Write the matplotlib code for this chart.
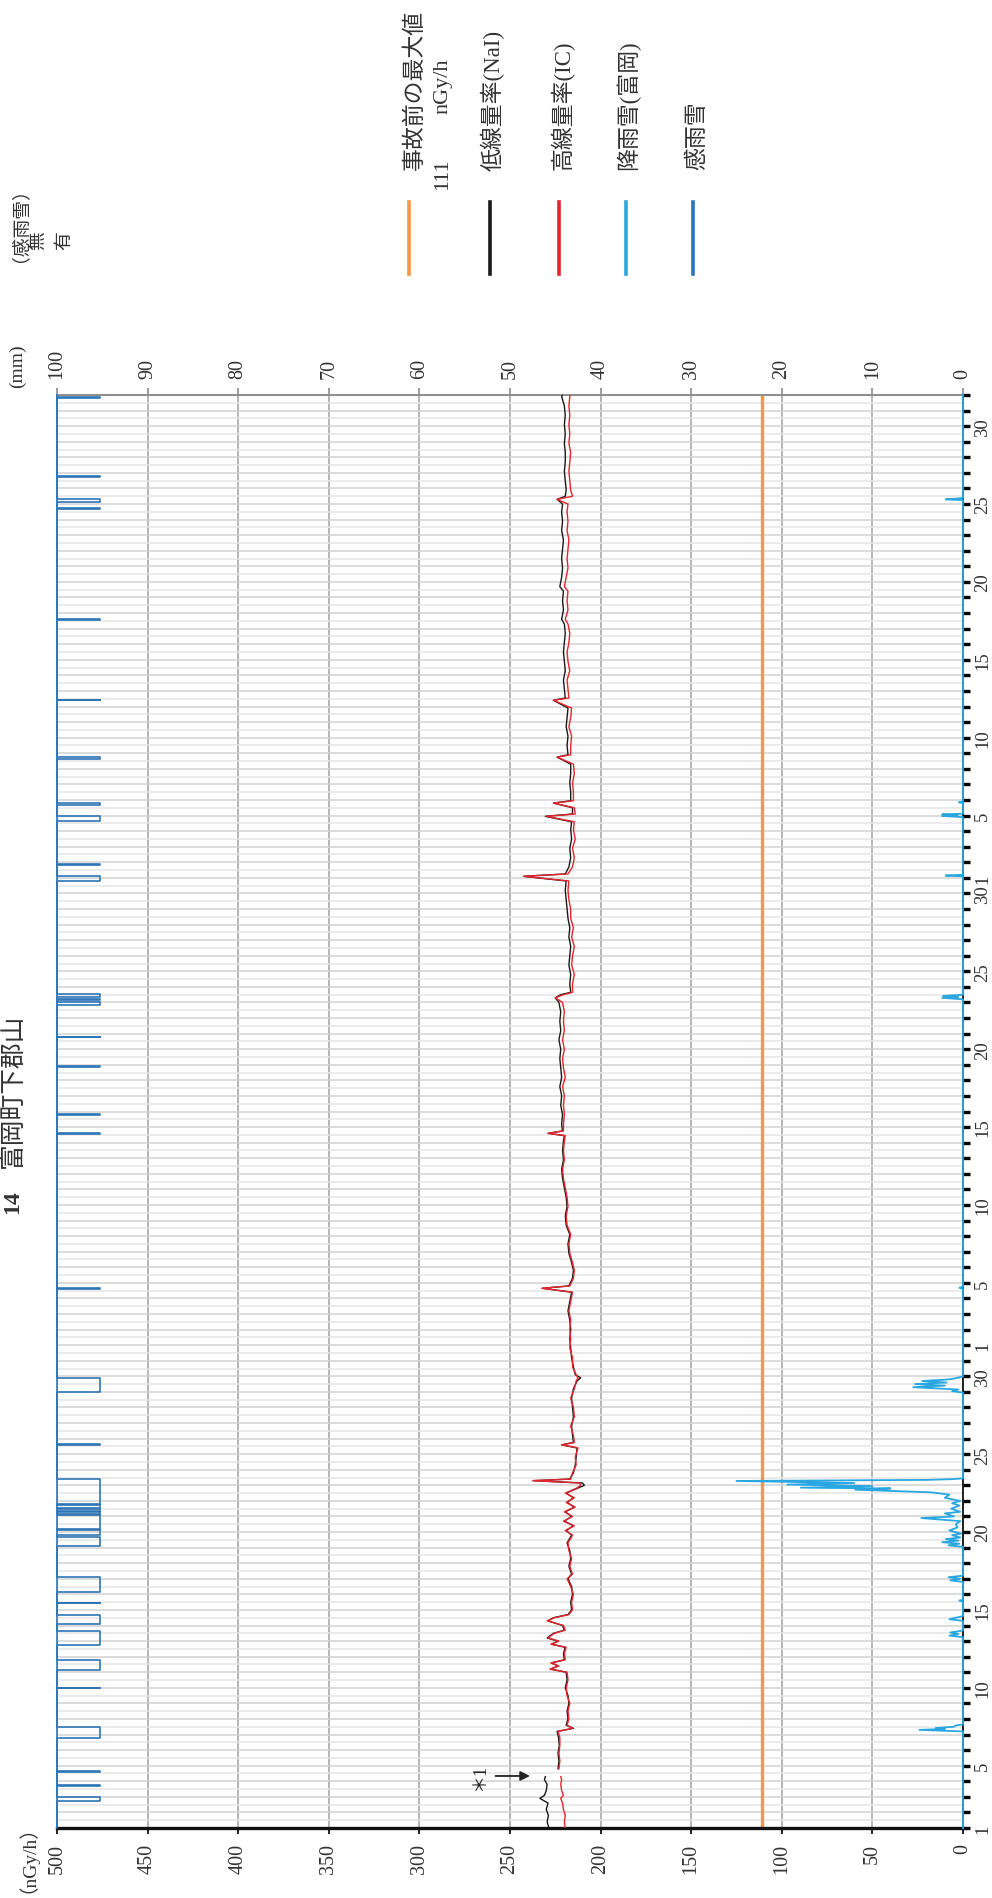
import numpy as np
import matplotlib
matplotlib.use('Agg')
import matplotlib.pyplot as plt
from matplotlib.lines import Line2D
from matplotlib.ticker import MultipleLocator

plt.rcParams['font.family'] = ['Liberation Serif', 'Noto Sans CJK JP']

# ---------------- data ----------------
title_no = "14"
title_name = "富岡町下郡山"
month_days = [31, 30, 31]
label_days = [1, 5, 10, 15, 20, 25, 30]
dose_ticks = list(range(0, 501, 50))
rain_ticks = list(range(0, 101, 10))
pre_accident_max = 111

# time in days from the first day 0:00
t_dose = [0.0, 0.4, 0.8, 1.2, 1.6, 1.9, 2.1, 2.4, 2.8, 3.1,
          3.3, 3.5, 3.8, 4.3, 4.8, 5.3, 5.8, 6.2, 6.4, 6.6,
          7.0, 7.5, 8.0, 8.5, 9.0, 9.5, 10.0, 10.2, 10.4, 10.6,
          10.8, 11.2, 11.6, 11.8, 12.0, 12.2, 12.5, 12.7, 13.0, 13.3,
          13.5, 13.7, 14.0, 14.5, 15.0, 15.5, 16.0, 16.3, 16.8, 17.3,
          17.8, 18.3, 18.8, 19.1, 19.4, 19.7, 20.0, 20.3, 20.6, 20.9,
          21.2, 21.5, 21.8, 22.0, 22.15, 22.3, 22.4, 22.8, 23.3, 23.8,
          24.4, 24.6, 24.75, 25.2, 25.8, 26.4, 27.0, 27.6, 28.2, 28.7,
          28.9, 29.1, 29.6, 30.2, 30.8, 31.4, 32.0, 32.6, 33.2, 33.8,
          34.4, 34.65, 34.8, 35.3, 35.8, 36.3, 36.9, 37.5, 38.1, 38.7,
          39.3, 39.9, 40.5, 41.1, 41.7, 42.3, 42.9, 43.5, 44.1, 44.45,
          44.6, 44.75, 45.2, 45.8, 46.4, 47.0, 47.6, 48.2, 48.8, 49.4,
          50.0, 50.6, 51.2, 51.8, 52.4, 53.0, 53.3, 53.5, 53.65, 54.2,
          54.8, 55.4, 56.0, 56.6, 57.2, 57.8, 58.4, 59.0, 59.6, 60.2,
          60.8, 61.1, 61.25, 61.7, 62.3, 62.9, 63.5, 64.1, 64.6, 64.95,
          65.1, 65.5, 65.8, 65.95, 66.5, 67.1, 67.7, 68.3, 68.75, 68.9,
          69.5, 70.1, 70.7, 71.3, 71.9, 72.4, 72.55, 73.1, 73.7, 74.3,
          74.9, 75.5, 76.1, 76.7, 77.3, 77.6, 78.2, 78.8, 79.4, 79.7,
          80.3, 80.9, 81.5, 82.1, 82.7, 83.3, 83.9, 84.5, 85.0, 85.3,
          85.5, 85.9, 86.5, 87.1, 87.7, 88.3, 88.9, 89.5, 90.1, 90.7,
          91.3, 91.9, 92.0]

nan = float('nan')
nai = [228.5, 229.5, 228.8, 230, 229, 233.5, 231, 230, 229.5, 231,
       230.5, nan, 223.5, 223, 223.5, 222.8, 223.2, 224, 215, 219,
       218, 218.5, 217.5, 218, 219.5, 218.5, 219, 227.5, 223.5, 227,
       220, 220.5, 219.5, 227, 223.5, 229.5, 226, 220, 221, 229,
       226, 218, 216, 216.5, 215.5, 216, 218, 216, 217.5, 216.5,
       217, 218.5, 216, 219, 215, 220, 216, 219.5, 214.5, 218.5,
       215, 219, 213, 209, 210, 237, 217, 215, 214, 213.5,
       213, 221.5, 215, 215.5, 216, 215, 215.5, 216, 215, 213,
       211, 214, 215, 216, 216.5, 217, 216.5, 217, 218, 217,
       216, 232, 217.5, 215.5, 215, 216, 217.5, 218, 217, 219,
       219.5, 218.5, 219, 220, 221, 221.5, 220.5, 221, 220.5, 220,
       229, 221, 221.5, 221, 222, 221.5, 222.5, 221.5, 222, 222.5,
       222, 223, 222, 222.5, 222, 223, 225, 222, 216.5, 217,
       216.5, 217.5, 217, 216.5, 217.5, 217, 218, 218.5, 219, 219.5,
       219, 242.5, 219.5, 217.5, 216.5, 217, 216, 216.5, 216, 230.5,
       215.5, 215.5, 226, 216.5, 216.5, 217, 216.5, 216.5, 224, 218,
       218.5, 218, 219, 218.5, 218, 226, 219.5, 220, 220.5, 219.5,
       220, 220.5, 220, 219.5, 220, 221.5, 220.5, 221, 220.5, 222.5,
       221.5, 221, 221.5, 221, 220.5, 221.5, 221, 221.5, 221, 224,
       219.5, 219, 219.5, 220, 219.5, 219.5, 220, 219.5, 220, 219.5,
       220, 221.5, 221]

ic = [219.5, 220, 219.5, 220.5, 221, 222, 220.5, 221.5, 222, 221.5,
      222, nan, 223, 222.5, 223, 222.5, 222.5, 223.5, 215.5, 218.5,
      217.5, 218, 217, 218.5, 219, 218, 218.5, 228, 223, 227.5,
      219.5, 220, 219, 227.5, 223, 229, 225.5, 219.5, 220.5, 229.5,
      225.5, 217.5, 215.5, 216, 215, 216.5, 218.5, 215.5, 217, 216,
      217.5, 218, 215.5, 219.5, 214.5, 220.5, 215.5, 220, 214, 219,
      214.5, 219.5, 213.5, 211, 211.5, 237.5, 216.5, 215.5, 213.5, 214,
      212.5, 221.5, 214.5, 215, 216.5, 214.5, 215, 216.5, 214.5, 213.5,
      212.5, 213.5, 215.5, 215.5, 217, 216.5, 217, 216.5, 217.5, 216.5,
      215.5, 232.5, 217, 215, 214.5, 215.5, 217, 217.5, 216.5, 218.5,
      219, 218, 218.5, 219.5, 220.5, 221, 220, 220.5, 220, 219.5,
      229, 220.5, 220.5, 220, 220.5, 220, 221, 219.5, 220.5, 221,
      220, 221, 220, 220.5, 220, 221, 225, 220.5, 215.5, 215.5,
      214.5, 216, 215.5, 214.5, 216, 215, 216.5, 216.5, 217.5, 218,
      217.5, 242.5, 218, 215.5, 214.5, 215.5, 214, 215, 214.5, 230,
      214, 214.5, 226, 215, 215, 215.5, 214.5, 215, 224, 216.5,
      216.5, 216, 217.5, 216.5, 216, 226, 217.5, 218, 218.5, 217,
      218, 218.5, 217.5, 217, 218, 219.5, 218, 218.5, 218, 220,
      219, 218, 218.5, 218, 217.5, 218.5, 218, 218.5, 218, 224,
      215.5, 216.5, 217, 217.5, 217, 216.5, 217.5, 217, 217.5, 217,
      217.5, 217, 217]

rain_t = [0.0, 6.2, 6.3, 6.36, 6.42, 6.5, 6.58, 6.65,
          12.25, 12.35, 12.45, 12.55, 12.65, 12.7,
          13.3, 13.4, 13.5, 13.6,
          14.55, 14.6, 14.65,
          15.8, 15.9, 16.0, 16.1, 16.2,
          18.05, 18.15, 18.25, 18.35, 18.45, 18.55, 18.65, 18.8, 18.9, 19.1,
          19.3, 19.5, 19.7, 19.9, 20.0, 20.2, 20.3, 20.5, 20.7, 20.85,
          21.0, 21.2, 21.4, 21.55, 21.65, 21.72, 21.8, 21.85, 21.95, 22.05,
          22.15, 22.28, 22.35, 22.4, 22.45,
          27.95, 28.05, 28.15, 28.3, 28.4, 28.5, 28.6, 28.7, 28.8, 28.9, 29.0,
          34.6, 34.68, 34.75,
          53.2, 53.3, 53.35, 53.42, 53.5,
          61.1, 61.15, 61.2,
          64.9, 64.97, 65.02, 65.07, 65.12,
          65.8, 65.85, 65.9,
          85.25, 85.3, 85.35, 85.4,
          92.0]
rain_mm = [0, 0, 4.8, 2.0, 3.0, 1.0, 0.8, 0,
           0, 1.5, 0.5, 1.4, 0.3, 0,
           0, 1.5, 0.8, 0,
           0, 0.4, 0,
           0, 1.4, 0.3, 1.6, 0,
           0, 1.6, 0.4, 2.3, 0.5, 1.9, 0.3, 1.2, 0.2, 1.5,
           0.6, 0.8, 0.3, 4.6, 1.0, 2.0, 0.3, 1.3, 0.4, 1.2,
           0.3, 2.0, 1.5, 3.5, 8.4, 11.9, 8.0, 17.9, 10.0, 19.4,
           12.0, 25.0, 4.0, 1.0, 0,
           0, 1.2, 0.5, 5.5, 2.0, 5.3, 1.8, 4.5, 1.5, 0.6, 0,
           0, 0.4, 0,
           0, 2.3, 0.5, 2.2, 0,
           0, 1.9, 0,
           0, 2.3, 0.6, 2.3, 0,
           0, 0.45, 0,
           0, 1.9, 0.6, 0,
           0]

sense_start = [1.72, 2.70, 3.61, 5.75, 8.97, 10.14, 11.72, 13.08, 14.43, 15.14,
               18.08, 18.78, 19.20, 20.14, 20.36, 20.52, 20.81, 24.61, 27.96, 34.60,
               44.53, 45.80, 48.88, 50.76, 52.84, 53.15, 53.35, 60.77, 61.82, 64.65,
               65.70, 68.63, 72.40, 77.58, 84.68, 85.10, 86.75, 91.80]
sense_end = [2.02, 2.74, 3.65, 6.50, 9.01, 10.81, 12.63, 13.69, 14.47, 16.14,
             18.68, 19.15, 20.08, 20.30, 20.45, 20.74, 22.41, 24.65, 28.86, 34.68,
             44.62, 45.84, 48.92, 50.80, 53.05, 53.25, 53.53, 61.15, 61.86, 64.95,
             65.79, 68.77, 72.44, 77.62, 84.76, 85.30, 86.79, 91.90]

legend_labels = ["事故前の最大値", "低線量率(NaI)", "高線量率(IC)", "降雨雪(富岡)", "感雨雪"]
legend_colors = ["#f79646", "#1a1a1a", "#e8232b", "#2aa7e1", "#2e75b6"]

# ---------------- figure ----------------
W, H = 992, 1899
fig = plt.figure(figsize=(W / 100, H / 100), dpi=100)


def fx(x):
    return x / W


def fy(y):
    return 1 - y / H


L, R, T, B = 57, 963, 396, 1829
total_days = sum(month_days)
NUM_FS = 14.5
TXT_C = '#333333'
CJK = ['Noto Sans CJK JP', 'DejaVu Sans']

ax = fig.add_axes([fx(L), fy(B), (R - L) / W, (B - T) / H])
ax.set_xlim(500, 0)
ax.set_ylim(0, total_days)

# day ticks
day_pos, day_lab = [], []
off = 0
for n in month_days:
    for d in range(1, n + 1):
        day_pos.append(off + d - 1)
        day_lab.append(str(d) if d in label_days else '')
    off += n
day_pos.append(off)
day_lab.append('')
ax.yaxis.tick_right()
ax.set_yticks(day_pos)
ax.set_yticklabels(day_lab, rotation=90, va='center', fontsize=13.5, color=TXT_C)
ax.yaxis.set_minor_locator(MultipleLocator(0.5))
ax.tick_params(axis='y', which='major', direction='out', length=5, width=2.4,
               color='black', pad=3)
ax.tick_params(axis='y', which='minor', length=0)

ax.set_xticks(dose_ticks)
ax.set_xticklabels([str(v) for v in dose_ticks], rotation=90, fontsize=NUM_FS, color=TXT_C)
ax.tick_params(axis='x', direction='out', length=4, width=1.2, color='black', pad=7)

ax.set_axisbelow(True)
ax.grid(axis='y', which='major', color='#d2d2d2', lw=1.1)
ax.grid(axis='y', which='minor', color='#e6e6e6', lw=1.1)
ax.grid(axis='x', which='major', color='#a8a8a8', lw=1.2)

ax.spines['bottom'].set_color('#111111')
ax.spines['bottom'].set_linewidth(2.4)
ax.spines['top'].set_color('#8c8c8c')
ax.spines['top'].set_linewidth(1.4)
ax.spines['right'].set_color('#111111')
ax.spines['right'].set_linewidth(1.3)
ax.spines['left'].set_color('#2e75b6')
ax.spines['left'].set_linewidth(1.2)

# pre-accident max
ax.axvline(pre_accident_max, color=legend_colors[0], lw=2.4, zorder=2)
# dose lines
ax.plot(nai, t_dose, color=legend_colors[1], lw=1.0, zorder=3)
ax.plot(ic, t_dose, color=legend_colors[2], lw=1.0, zorder=4)

# *1 annotation
ax.annotate('', xy=(239, 3.34), xytext=(258, 3.34),
            arrowprops=dict(arrowstyle='-|>', color='#222222', lw=1.3,
                            mutation_scale=14, shrinkA=0, shrinkB=0))
ax.text(267, 3.34, '＊1', rotation=90, ha='center', va='center', fontsize=13,
        color='#222222')

# rain axis
ax_r = ax.twiny()
ax_r.set_xlim(100, 0)
ax_r.set_ylim(0, total_days)
ax_r.set_xticks(rain_ticks)
ax_r.set_xticklabels([str(v) for v in rain_ticks], rotation=90, fontsize=NUM_FS, color=TXT_C)
ax_r.tick_params(axis='x', direction='out', length=5, width=1.2, color='#8c8c8c', pad=7)
for s in ax_r.spines.values():
    s.set_visible(False)
ax_r.plot(rain_mm, rain_t, color=legend_colors[3], lw=1.3, clip_on=False)

# sense axis (無=0 / 有=1)
ax_s = ax.twiny()
ax_s.set_xlim(0, (R - L) / (100 - L))
ax_s.set_ylim(0, total_days)
ax_s.set_xticks([])
for s in ax_s.spines.values():
    s.set_visible(False)
sx, sy = [0], [0]
for s0, s1 in zip(sense_start, sense_end):
    sx += [0, 1, 1, 0]
    sy += [s0, s0, s1, s1]
sx.append(0)
sy.append(total_days)
ax_s.plot(sx, sy, color=legend_colors[4], lw=1.2, clip_on=False)

# ---------------- texts ----------------
def vtext(x, y, s, size, **kw):
    fig.text(fx(x), fy(y), s, rotation=90, rotation_mode='anchor',
             ha='left', va='center', fontsize=size, color=TXT_C, **kw)


vtext(13, 1214, title_no, 17, fontweight='bold')
vtext(13, 1168, title_name, 18.5, family=CJK)
vtext(17, 1893, '（nGy/h）', 14)
vtext(17, 388, '(mm)', 14)
vtext(10, 262, '（感雨雪）', 13.5, family=CJK)
vtext(38, 250, '無', 13.5, family=CJK)
vtext(64, 250, '有', 13.5, family=CJK)

leg_x = [409, 490, 559, 626, 693]
for x, c in zip(leg_x, legend_colors):
    fig.add_artist(Line2D([fx(x), fx(x)], [fy(203), fy(275)], color=c, lw=2.6))
vtext(415, 170, legend_labels[0], 16.5)
vtext(443, 190, str(pre_accident_max), 16)
vtext(443, 114, 'nGy/h', 16)
vtext(493, 171, legend_labels[1], 16.5)
vtext(562, 170, legend_labels[2], 16.5)
vtext(628, 170, legend_labels[3], 16.5)
vtext(698, 170, legend_labels[4], 16.5)

fig.savefig('out.png', dpi=100)
